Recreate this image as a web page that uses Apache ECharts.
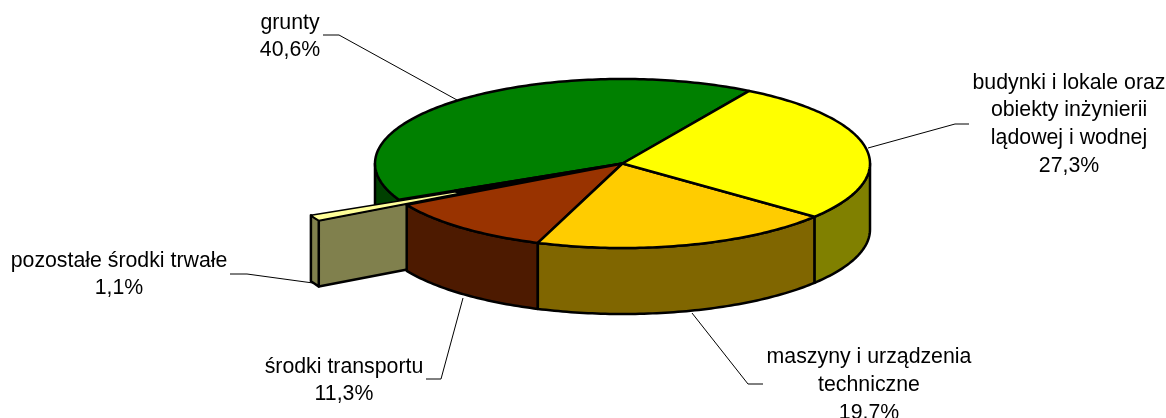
<!DOCTYPE html>
<html>
<head>
<meta charset="utf-8">
<script src="https://cdn.jsdelivr.net/npm/echarts@6/dist/echarts.min.js"></script>
<style>
html, body { margin: 0; padding: 0; background: #fff; }
#main { width: 1166px; height: 418px; }
</style>
</head>
<body>
<div id="main"></div>
<script>
// shares, clockwise from the top right edge of the yellow slice
var categories = [
  'budynki i lokale oraz\nobiekty inżynierii\nlądowej i wodnej',
  'maszyny i urządzenia\ntechniczne',
  'środki transportu',
  'pozostałe środki trwałe',
  'grunty'
];
var shares = [27.3, 19.7, 11.3, 1.1, 40.6];

var topColors = ['#FFFF00', '#FFCC00', '#993300', '#FFFF99', '#008000'];
var sideColors = ['#808000', '#806600', '#4D1A00', '#80804D', '#004000'];
var explode = [0, 0, 0, 0.4, 0];
var paintOrder = [4, 3, 2, 1, 0]; // back to front

// pie geometry
var cx = 622.5, cy = 163.5, rx = 247.5, ry = 84.5, depth = 66;
var startAngle = -59.2;

// label centre + first line y, leader line points
var labelPos = [[1069, 69], [869, 343.5], [344, 353], [119, 247], [290, 9]];
var leaders = [
  [[868, 148], [955, 124], [969, 124]],
  [[692, 313], [748, 384], [763, 384]],
  [[463, 298], [441, 379], [426, 379]],
  [[313, 283], [247, 274], [230, 274]],
  [[457, 100], [339, 35], [323, 35]]
];

var total = 0;
shares.forEach(function (v) { total += v; });

function sliceAngles(idx) {
  var a = startAngle;
  for (var i = 0; i < idx; i++) a += shares[i] / total * 360;
  return [a, a + shares[idx] / total * 360];
}
function rimPoint(deg, ox, oy) {
  var t = deg * Math.PI / 180;
  return [ox + rx * Math.cos(t), oy + ry * Math.sin(t)];
}
function arcPoints(a0, a1, ox, oy, dy) {
  var pts = [], n = Math.max(2, Math.ceil(Math.abs(a1 - a0)));
  for (var i = 0; i <= n; i++) {
    var p = rimPoint(a0 + (a1 - a0) * i / n, ox, oy);
    pts.push([p[0], p[1] + dy]);
  }
  return pts;
}
function face(points, fill, width) {
  return {
    type: 'polygon',
    shape: { points: points },
    style: { fill: fill, stroke: '#000', lineWidth: width || 2.5, lineJoin: 'round' }
  };
}
function towards(p, f) {
  return [cx + (p[0] - cx) * f, cy + (p[1] - cy) * f];
}

function renderSlice(params, api) {
  var idx = api.value(0);
  var ang = sliceAngles(idx);
  var mid = (ang[0] + ang[1]) / 2 * Math.PI / 180;
  var ox = cx + explode[idx] * rx * Math.cos(mid);
  var oy = cy + explode[idx] * ry * Math.sin(mid);
  var pulled = explode[idx] > 0;
  var children = [];

  if (pulled) {
    // pulled out slice: cut face towards viewer, then outer rim
    var a = rimPoint(ang[0], ox, oy);
    children.push(face([[ox, oy], a, [a[0], a[1] + depth], [ox, oy + depth]], sideColors[idx]));
  }
  // rim is only visible on the front half of the ellipse
  var r0 = Math.max(ang[0], 0), r1 = Math.min(ang[1], 180);
  if (r1 > r0) {
    var upper = arcPoints(r0, r1, ox, oy, 0);
    var lower = arcPoints(r1, r0, ox, oy, depth);
    children.push(face(upper.concat(lower), sideColors[idx]));
  }
  var top = [[ox, oy]].concat(arcPoints(ang[0], ang[1], ox, oy, 0));
  children.push(face(top, topColors[idx], pulled ? 1.5 : 2.5));
  if (pulled) {
    // the gap it leaves in the pie reads as solid black near the centre
    children.push(face([
      [cx, cy],
      towards(rimPoint(ang[0], cx, cy), 0.75),
      towards(rimPoint(ang[1], cx, cy), 0.75)
    ], '#000'));
  }
  return { type: 'group', children: children };
}

var labelElements = [];
categories.forEach(function (name, i) {
  labelElements.push({
    type: 'polyline',
    shape: { points: leaders[i] },
    style: { fill: null, stroke: '#000', lineWidth: 1 },
    silent: true
  });
  labelElements.push({
    type: 'text',
    x: labelPos[i][0],
    y: labelPos[i][1],
    style: {
      text: name + '\n' + shares[i].toFixed(1).replace('.', ',') + '%',
      fill: '#000',
      font: '21.3px "Liberation Sans", Arial, sans-serif',
      lineHeight: 27.7,
      align: 'center',
      verticalAlign: 'top'
    },
    silent: true
  });
});

var chart = echarts.init(document.getElementById('main'), null, { renderer: 'canvas' });
chart.setOption({
  backgroundColor: '#FFFFFF',
  animation: false,
  tooltip: { show: false },
  graphic: { elements: labelElements },
  series: [{
    type: 'custom',
    coordinateSystem: 'none',
    silent: true,
    clip: false,
    renderItem: renderSlice,
    encode: { value: 0 },
    data: paintOrder.map(function (i) { return [i, shares[i]]; })
  }]
});
</script>
</body>
</html>
